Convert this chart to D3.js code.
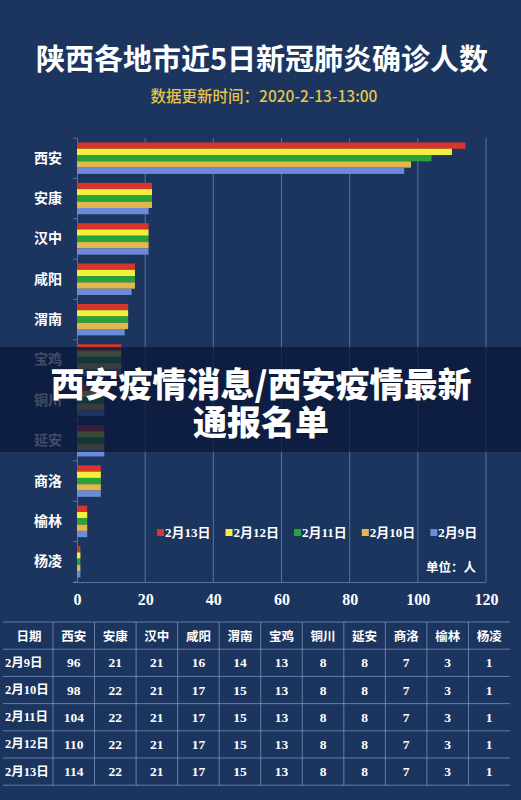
<!DOCTYPE html>
<html><head><meta charset="utf-8">
<script src="https://cdn.jsdelivr.net/npm/d3@7/dist/d3.min.js"></script>
<style>
html,body{margin:0;padding:0;background:#1b355f;}
svg{display:block;}
</style></head>
<body>
<svg id="chart" width="521" height="800"></svg>
<script>
const cities = ["西安","安康","汉中","咸阳","渭南","宝鸡","铜川","延安","商洛","榆林","杨凌"];
const dates = ["2月9日","2月10日","2月11日","2月12日","2月13日"];
const feb9  = [96,21,21,16,14,13,8,8,7,3,1];
const feb10 = [98,22,21,17,15,13,8,8,7,3,1];
const feb11 = [104,22,21,17,15,13,8,8,7,3,1];
const feb12 = [110,22,21,17,15,13,8,8,7,3,1];
const feb13 = [114,22,21,17,15,13,8,8,7,3,1];
const xTicks = [0,20,40,60,80,100,120];
const titleText = "陕西各地市近5日新冠肺炎确诊人数";
const subtitleText = "数据更新时间：2020-2-13-13:00";
const unitText = "单位：人";
const headerFirst = "日期";
const bannerLines = ["西安疫情消息/西安疫情最新","通报名单"];

const seriesValues = {"2月9日":feb9,"2月10日":feb10,"2月11日":feb11,"2月12日":feb12,"2月13日":feb13};
const barOrder = ["2月13日","2月12日","2月11日","2月10日","2月9日"];
const colors = {"2月13日":"#d8352c","2月12日":"#f3ef3a","2月11日":"#2ba239","2月10日":"#e2b74c","2月9日":"#6b8ad8"};

const svg = d3.select("#chart");
const W = 521;
const sans = "'Noto Sans CJK SC','Noto Sans',sans-serif";
const serif = "'Liberation Serif','DejaVu Serif','Noto Sans CJK SC',serif";

svg.append("rect").attr("width",W).attr("height",800).attr("fill","#1b355f");

// Title
svg.append("text").attr("x",262).attr("y",57).attr("text-anchor","middle")
  .attr("dominant-baseline","central").attr("font-family",sans).attr("font-weight",700)
  .attr("font-size",29).attr("fill","#ffffff").text(titleText);
svg.append("text").attr("x",264).attr("y",95).attr("text-anchor","middle")
  .attr("dominant-baseline","central").attr("font-family",sans).attr("font-weight",500)
  .attr("font-size",15.5).attr("fill","#e6c349").text(subtitleText);

// Scales
const x = d3.scaleLinear().domain([0,120]).range([77,486]);
const y = d3.scaleBand().domain(cities).range([138,582]).paddingInner(0.22).paddingOuter(0.11);
const y1 = d3.scaleBand().domain(barOrder).range([0,y.bandwidth()]);
const gridColor = "rgba(140,165,210,0.55)";

// gridlines
svg.append("g").selectAll("line").data(xTicks.filter(d=>d>0)).join("line")
  .attr("x1",d=>x(d)).attr("x2",d=>x(d)).attr("y1",138).attr("y2",582)
  .attr("stroke",gridColor).attr("stroke-width",1);

// x axis
const xAxis = svg.append("g").attr("transform","translate(0,582)")
  .call(d3.axisBottom(x).tickValues(xTicks).tickSize(0).tickPadding(12));
xAxis.select(".domain").attr("stroke",gridColor).attr("d","M73,0.5H486");
xAxis.selectAll("text").attr("font-family",serif).attr("font-weight",700)
  .attr("font-size",16).attr("fill","#ffffff");

// y axis
const yAxis = svg.append("g").attr("transform","translate(77,0)")
  .call(d3.axisLeft(y).tickSize(0).tickPadding(15));
yAxis.select(".domain").attr("stroke",gridColor).attr("d","M0.5,138V582");
yAxis.selectAll("text").attr("font-family",sans).attr("font-weight",700)
  .attr("font-size",14).attr("fill","#ffffff");
// boundary ticks
const bounds = cities.map(c=>y(c)-y.step()*y.paddingInner()/2).concat([582]);
svg.append("g").selectAll("line").data(bounds).join("line")
  .attr("x1",73).attr("x2",77).attr("y1",d=>d).attr("y2",d=>d)
  .attr("stroke",gridColor);

// bars
const groups = svg.append("g").selectAll("g").data(cities).join("g")
  .attr("transform",c=>`translate(0,${y(c)})`);
groups.selectAll("rect").data((c,i)=>barOrder.map(k=>({k, v:seriesValues[k][i]}))).join("rect")
  .attr("x",x(0)).attr("y",d=>y1(d.k)).attr("height",y1.bandwidth())
  .attr("width",d=>x(d.v)-x(0)).attr("fill",d=>colors[d.k]);

// legend
const legend = svg.append("g");
let lx = 157;
barOrder.forEach(k=>{
  legend.append("rect").attr("x",lx).attr("y",529).attr("width",7).attr("height",7).attr("fill",colors[k]);
  const t = legend.append("text").attr("x",lx+8).attr("y",532.5).attr("dominant-baseline","central")
    .attr("font-family",serif).attr("font-weight",700).attr("font-size",13).attr("fill","#ffffff").text(k);
  lx += 8 + t.node().getComputedTextLength() + 15;
});
svg.append("text").attr("x",476).attr("y",566).attr("text-anchor","end").attr("dominant-baseline","central")
  .attr("font-family",sans).attr("font-weight",700).attr("font-size",12.5).attr("fill","#ffffff").text(unitText);

// table
const tableTop = 622, rowH = 27.2;
const col = d3.scaleBand().domain(cities).range([53,510]);
const tbl = svg.append("g");
const tLine = "rgba(150,175,215,0.6)";
d3.range(7).forEach(i=>{
  tbl.append("line").attr("x1",3).attr("x2",510).attr("y1",tableTop+i*rowH).attr("y2",tableTop+i*rowH)
    .attr("stroke",tLine).attr("stroke-width",1);
});
cities.forEach(c=>{
  tbl.append("line").attr("x1",col(c)).attr("x2",col(c)).attr("y1",tableTop).attr("y2",tableTop+6*rowH)
    .attr("stroke",tLine).attr("stroke-width",1);
});
tbl.append("text").attr("x",29).attr("y",tableTop+rowH/2).attr("text-anchor","middle").attr("dominant-baseline","central")
  .attr("font-family",sans).attr("font-weight",700).attr("font-size",12.5).attr("fill","#fff").text(headerFirst);
cities.forEach(c=>{
  tbl.append("text").attr("x",col(c)+col.bandwidth()/2).attr("y",tableTop+rowH/2).attr("text-anchor","middle")
    .attr("dominant-baseline","central").attr("font-family",sans).attr("font-weight",700).attr("font-size",12.5)
    .attr("fill","#fff").text(c);
});
dates.forEach((dt,r)=>{
  const cy = tableTop+(r+1.5)*rowH;
  tbl.append("text").attr("x",5).attr("y",cy).attr("dominant-baseline","central")
    .attr("font-family",serif).attr("font-weight",700).attr("font-size",12.5).attr("fill","#fff").text(dt);
  cities.forEach((c,i)=>{
    tbl.append("text").attr("x",col(c)+col.bandwidth()/2).attr("y",cy).attr("text-anchor","middle")
      .attr("dominant-baseline","central").attr("font-family",serif).attr("font-weight",700).attr("font-size",13.5)
      .attr("fill","#fff").text(seriesValues[dt][i]);
  });
});

// banner overlay
svg.append("rect").attr("x",0).attr("y",347).attr("width",W).attr("height",105).attr("fill","rgba(10,24,58,0.78)");
bannerLines.forEach((s,i)=>{
  svg.append("text").attr("x",261).attr("y",382+i*38).attr("text-anchor","middle").attr("dominant-baseline","central")
    .attr("font-family",sans).attr("font-weight",900).attr("font-size",34).attr("fill","#ffffff")
    .attr("stroke","rgba(0,0,0,0.35)").attr("stroke-width",0.8).attr("paint-order","stroke").text(s);
});
</script>
</body></html>
